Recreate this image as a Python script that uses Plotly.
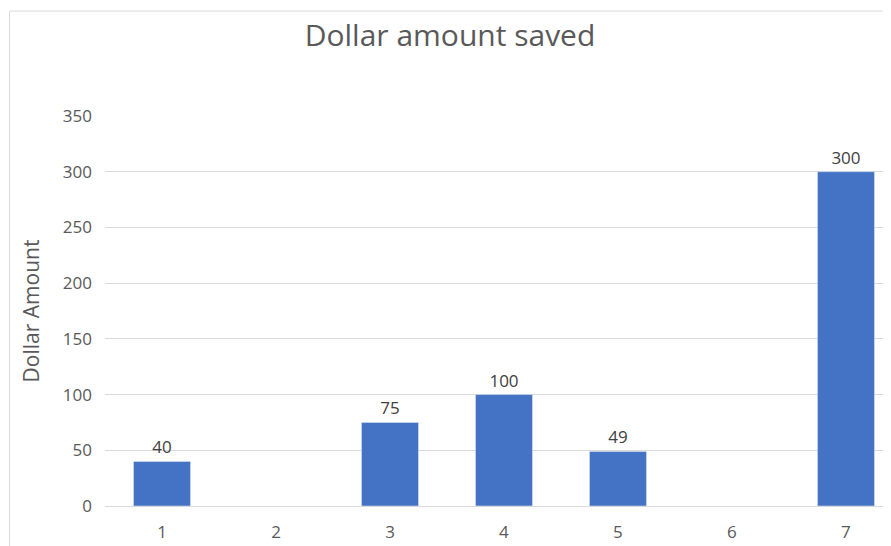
import plotly.graph_objects as go

# data
days = [1, 2, 3, 4, 5, 6, 7]
saved = [40, None, 75, 100, 49, None, 300]
labels = ['40', '', '75', '100', '49', '', '300']
y_ticks = [0, 50, 100, 150, 200, 250, 300, 350]

font = 'Open Sans'
grey = '#595959'

fig = go.Figure()
fig.add_trace(go.Bar(x=days, y=saved, width=0.5, marker_color='#4472C4',
                     text=labels, textposition='outside', cliponaxis=False,
                     textfont=dict(family=font, size=17, color='#404040')))

# page has an 8px body margin, so the figure is 8px smaller than the window
fig.update_layout(
    width=883, height=538,
    margin=dict(l=97, r=0, t=108, b=40),
    plot_bgcolor='white', paper_bgcolor='white',
    showlegend=False,
    title=dict(text='Dollar amount saved', x=0.5006, xanchor='center',
               y=1 - 27 / 538, yanchor='middle', xref='container', yref='container',
               font=dict(family=font, size=30, color=grey)),
    font=dict(family=font, color=grey),
)

fig.update_xaxes(range=[0.5, 7.395], tickmode='array', tickvals=days,
                 ticktext=[str(d) for d in days], showgrid=False, zeroline=False,
                 ticks='', ticklabelstandoff=14, tickfont=dict(size=17, color=grey))
fig.update_yaxes(range=[0, 350], tickvals=y_ticks, showgrid=True,
                 gridcolor='#d9d9d9', gridwidth=1, zeroline=True,
                 zerolinecolor='#d9d9d9', zerolinewidth=1, ticks='',
                 ticklabelstandoff=12, tickfont=dict(size=17, color=grey),
                 title=dict(text='Dollar Amount', standoff=17,
                            font=dict(size=21, color=grey)))

# chart area border (right and bottom edges lie outside the picture)
fig.add_shape(type='rect', xref='paper', yref='paper',
              x0=-0.1215, x1=1.2, y0=-0.3, y1=1.269,
              line=dict(color='#d9d9d9', width=1), layer='below')

fig.write_html("out.html")
